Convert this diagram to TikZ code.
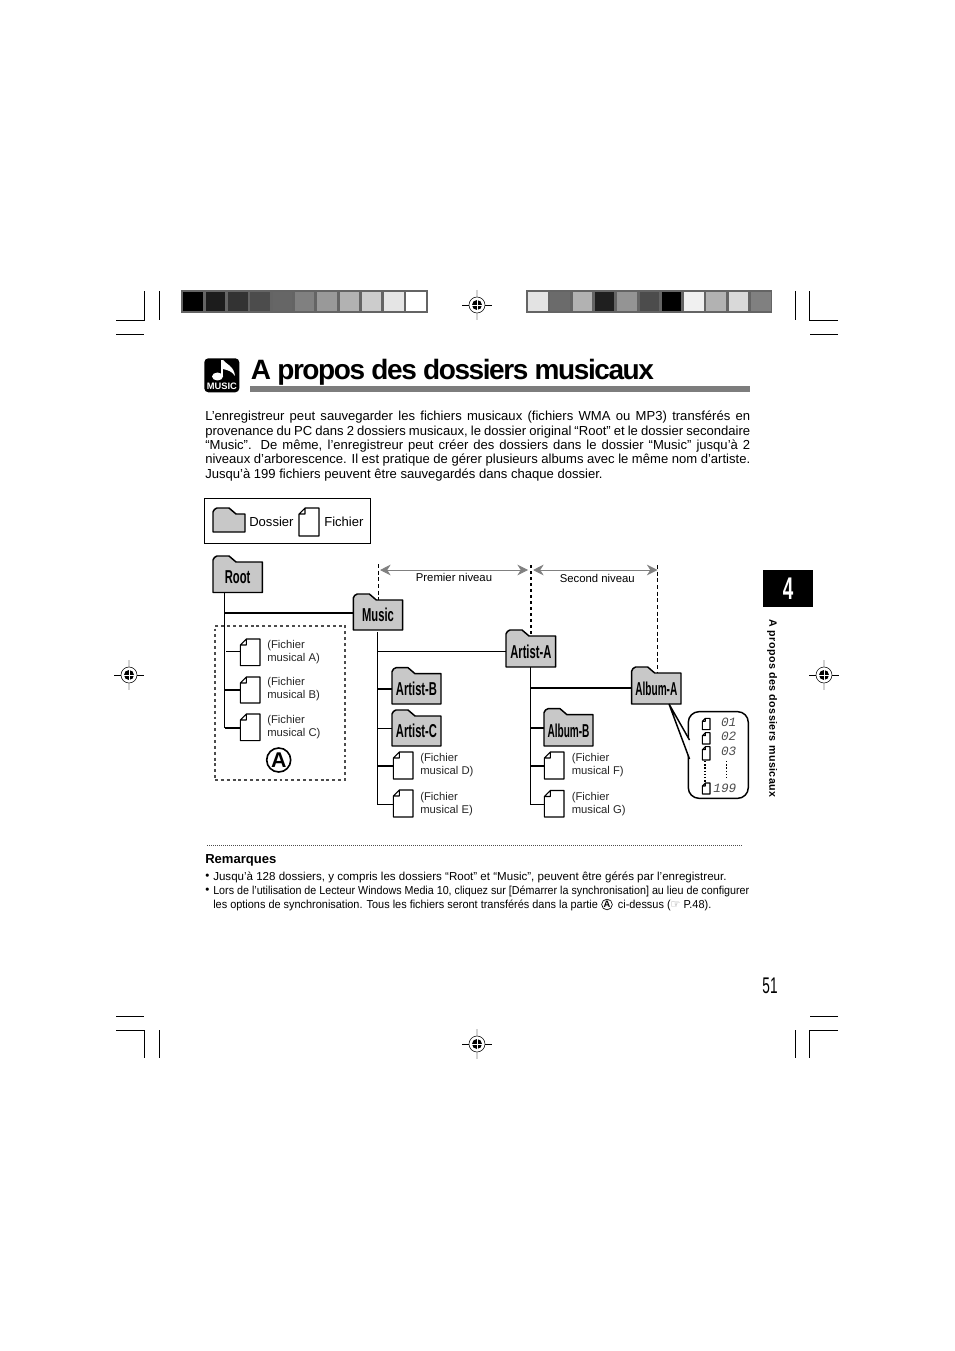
\documentclass[tikz,border=0pt]{standalone}
\usepackage{fontspec}
\setmainfont{Liberation Sans}
\newfontfamily\foldfont[FakeStretch=0.6]{Liberation Sans}
\newfontfamily\titlefont[LetterSpace=-5.1]{Liberation Sans}
\newfontfamily\sidefont[LetterSpace=4]{Liberation Sans}
\newfontfamily\lcdfont{Liberation Mono}
\newfontfamily\symfont{DejaVu Sans}
\usepackage{tikz}
\usetikzlibrary{positioning,calc,arrows.meta}
\definecolor{foldgray}{RGB}{200,200,200}
\definecolor{levelgray}{RGB}{125,125,125}
\definecolor{stripgray}{RGB}{100,100,100}

% folder outline plus a label node that carries the name
\newcommand{\folderbox}[6]{%
  \draw[foldline] (#2,#5) -- (#2,#3+4) to[bend left=30] (#2+4,#3) -- (#2+16,#3)
    -- (#2+23,#3+6) -- (#4,#3+6) -- (#4,#5) -- cycle;
  \node[foldlabel, minimum width={(#4-#2)*0.75pt}, minimum height={(#5-#3-6)*0.75pt}]
    (#1) at ({(#2+#4)/2},{(#3+6+#5)/2}) {#6};
}
% file with a folded corner
\newcommand{\filenode}[6][6]{%
  \draw[docline] (#3+#1,#4) -- (#5,#4) -- (#5,#6) -- (#3,#6) -- (#3,#4+#1) -- cycle
    (#3+#1,#4) |- (#3,#4+#1);
  \node[docnode, minimum width={(#5-#3)*0.75pt}, minimum height={(#6-#4)*0.75pt}]
    (#2) at ({(#3+#5)/2},{(#4+#6)/2}) {};
}
\newcommand{\regmark}[3]{%
  \draw[gray!35, line width=1pt] (#2,#3-15) -- (#2,#3+15);
  \draw[black, line width=.5pt] (#2-15,#3) -- (#2+15,#3) (#2,#3-8) -- (#2,#3+8);
  \draw[black, line width=.4pt, fill=white] (#2,#3) circle (8);
  \fill[black] (#2,#3) circle (5);
  \draw[white, line width=.6pt] (#2-5,#3) -- (#2+5,#3) (#2,#3-5) -- (#2,#3+5);
  \coordinate (#1) at (#2,#3);
}
\begin{document}
\begin{tikzpicture}[
  x=0.75pt, y=-0.75pt,
  foldline/.style={draw=black, fill=foldgray, line width=1.1pt, line join=round},
  foldlabel/.style={inner sep=0pt, font=\foldfont\fontsize{14}{14}\selectfont\bfseries},
  docnode/.style={inner sep=0pt},
  docline/.style={draw=black, fill=white, line width=.8pt, line join=round},
  thinlink/.style={black, line width=.75pt},
  thicklink/.style={black, line width=1.5pt},
  croplink/.style={black, line width=.6pt},
  lvlarrow/.style={{Stealth[length=8pt,width=8pt]}-{Stealth[length=8pt,width=8pt]}, gray, line width=.75pt},
  lvltext/.style={inner sep=0pt, text=black, font=\fontsize{8.5}{9}\selectfont},
  filetext/.style={anchor=west, align=left, inner sep=0pt, font=\fontsize{8.45}{9.8}\selectfont, text=black!85},
  lcdnum/.style={anchor=east, inner sep=0pt, text=black!70, font=\lcdfont\itshape\fontsize{9.5}{9.5}\selectfont},
  notetext/.style={anchor=north west, inner sep=0pt, font=\fontsize{8.67}{10.5}\selectfont},
]
\path[use as bounding box] (0,0) rectangle (954,1351);
%--- crop marks -----------------------------------------------------------
\draw[croplink] (116,320) -- (144.5,320) -- (144.5,291) (159.5,291) -- (159.5,320) (116,334) -- (144,334);
\draw[croplink] (838,320) -- (809.7,320) -- (809.7,291) (795.3,291) -- (795.3,320) (838,334) -- (810,334);
\draw[croplink] (116,1030) -- (144.5,1030) -- (144.5,1058) (159.5,1030) -- (159.5,1058) (116,1016) -- (144,1016);
\draw[croplink] (838,1030) -- (809.7,1030) -- (809.7,1058) (795.3,1030) -- (795.3,1058) (838,1016) -- (810,1016);
\regmark{regtop}{477}{305}
\regmark{regleft}{129}{675}
\regmark{regright}{824}{675}
\regmark{regbottom}{477}{1044}
%--- gray strips ----------------------------------------------------------
\fill[stripgray] (181,290) rectangle (427.7,312.7);
\foreach \lev [count=\i from 0] in {100,89,80,70,60,50,40,30,20,10,0}
  \fill[black!\lev] ({183.4+22.3*\i},292.3) rectangle ({202.9+22.3*\i},310.7);
\fill[stripgray] (526,290) rectangle (772,312.7);
\foreach \lev [count=\i from 0] in {11,58,30,88,42,70,100,6,30,15,50}
  \fill[black!\lev] ({528+22.3*\i},292.3) rectangle ({547.5+22.3*\i},310.7);
%--- title ----------------------------------------------------------------
\fill[black, rounded corners=3pt] (204.3,358.3) rectangle (239.3,392.3);
\fill[white] (217.5,376.5) ellipse (5.5 and 4);
\fill[white] (220.8,360) rectangle (223,376);
\fill[white] (223,360) .. controls (226,364) and (234,366) .. (235,376)
  .. controls (232,371) and (227,370) .. (223,369) -- cycle;
\node[inner sep=0pt, text=white, font=\fontsize{7}{6}\selectfont\bfseries] (musicmark) at (221.8,386.5) {MUSIC};
\node[anchor=base west, inner sep=0pt, font=\titlefont\fontsize{21}{21}\selectfont\bfseries] (title) at (250.5,379) {A propos des dossiers musicaux};
\fill[levelgray] (250,386) rectangle (750,391.7);
\node[anchor=north west, inner sep=0pt, text width=408.75pt, align=justify, font=\fontsize{9.8}{10.75}\selectfont] (intro) at (205,411) {%
\hyphenpenalty=10000 \tolerance=9999
L’enregistreur peut sauvegarder les fichiers musicaux (fichiers WMA ou MP3) transférés en\linebreak
provenance du PC dans 2 dossiers musicaux, le dossier original “Root” et le dossier secondaire\linebreak
“Music”. De même, l’enregistreur peut créer des dossiers dans le dossier “Music” jusqu’à 2\linebreak
niveaux d’arborescence. Il est pratique de gérer plusieurs albums avec le même nom d’artiste.\linebreak
Jusqu’à 199 fichiers peuvent être sauvegardés dans chaque dossier.};
%--- legend ---------------------------------------------------------------
\node[draw=black, line width=.75pt, minimum width=124.5pt, minimum height=33.75pt, inner sep=0pt] (legend) at (287.5,520.5) {};
\folderbox{legfolder}{213}{508}{245}{532}{}
\node[anchor=west, inner sep=0pt, font=\fontsize{9.8}{10}\selectfont] (legdossier) at (249,521.5) {Dossier};
\filenode{legfile}{299}{508}{319}{536}
\node[anchor=west, inner sep=0pt, font=\fontsize{9.8}{10}\selectfont] (legfichier) at (324,521.5) {Fichier};
%--- level rulers ---------------------------------------------------------
\coordinate (lvla) at (378.5,564);
\coordinate (lvlb) at (530.7,565);
\coordinate (lvlc) at (657.5,565);
\coordinate (rula) at (380,570);
\coordinate (rulb) at (528,570);
\coordinate (rulc) at (533,570);
\coordinate (rold) at (657.5,570);
\draw[lvlarrow] (rula) -- (rulb) node[midway, below=2pt, lvltext] (lvlfirst) {Premier niveau};
\draw[lvlarrow] (rulc) -- (rold) node[midway, below=2.7pt, xshift=1.5pt, lvltext] (lvlsecond) {Second niveau};
%--- folders --------------------------------------------------------------
\folderbox{root}{213}{556}{262.3}{592.5}{Root}
\folderbox{music}{353.3}{594}{402.7}{630}{Music}
\folderbox{artistb}{392}{667.7}{441}{704}{Artist-B}
\folderbox{artistc}{392}{710}{441}{746}{Artist-C}
\folderbox{artista}{506}{630}{555.7}{667}{Artist-A}
\folderbox{albuma}{631.7}{667}{681}{704}{\scalebox{0.9}[1]{Album-A}}
\folderbox{albumb}{544}{708.7}{593}{746}{\scalebox{0.9}[1]{Album-B}}
\draw[black, densely dashed, line width=.6pt] (lvla) -- (lvla |- music.north);
\draw[black, line width=1.5pt, dash pattern=on 2.5pt off 2pt] (lvlb) -- (lvlb |- artista.north);
\draw[black, densely dashed, line width=.7pt] (lvlc) -- (lvlc |- albuma.north);
%--- files ----------------------------------------------------------------
\filenode{fa}{240.3}{639}{260}{665.7}
\filenode{fb}{240.3}{677}{260}{703}
\filenode{fc}{240.3}{714}{260}{740.7}
\filenode{fd}{393.3}{752}{413}{779}
\filenode{fe}{393.3}{790}{413}{817}
\filenode{ff}{544.3}{752}{564}{779}
\filenode{fg}{544.3}{790.5}{564}{817}
\node[filetext] (texta) at (267,652.5) {(Fichier\\musical A)};
\node[filetext] (textb) at (267,689.5) {(Fichier\\musical B)};
\node[filetext] (textc) at (267,727.5) {(Fichier\\musical C)};
\node[filetext] (textd) at (420,765.5) {(Fichier\\musical D)};
\node[filetext] (texte) at (420,804.5) {(Fichier\\musical E)};
\node[filetext] (textf) at (571.5,765.5) {(Fichier\\musical F)};
\node[filetext] (textg) at (571.5,804.5) {(Fichier\\musical G)};
%--- tree links -----------------------------------------------------------
\coordinate (roottop) at (224.5,592.5);
\coordinate (rootend) at (224.5,728);
\coordinate (rootm) at (224.5,612.7);
\coordinate (roota) at (226,651);
\coordinate (rootb) at (224.5,689.7);
\coordinate (rootc) at (224.5,727.7);
\draw[thinlink] (roottop) -- (rootend);
\draw[thicklink] (rootm) -- (rootm -| music.west);
\draw[thinlink] (roota) -- (roota -| fa.west);
\draw[thicklink] (rootb) -- (rootb -| fb.west);
\draw[thicklink] (rootc) -- (rootc -| fc.west);
\coordinate (musictop) at (377.3,632);
\coordinate (musicend) at (377.3,804.5);
\coordinate (musica) at (377.3,651.3);
\coordinate (musicb) at (377.3,689);
\coordinate (musicc) at (377.3,728.7);
\coordinate (musicd) at (377.3,766);
\coordinate (musice) at (377.3,804);
\draw[thinlink] (musictop) -- (musicend);
\draw[thinlink] (musica) -- (musica -| artista.west);
\draw[thicklink] (musicb) -- (musicb -| artistb.west);
\draw[thinlink] (musicc) -- (musicc -| artistc.west);
\draw[thicklink] (musicd) -- (musicd -| fd.west);
\draw[thinlink] (musice) -- (musice -| fe.west);
\coordinate (artisttop) at (530.3,667);
\coordinate (artistend) at (530.3,804.5);
\coordinate (artistm) at (530.3,687.7);
\coordinate (artistn) at (530.3,728);
\coordinate (artistf) at (530.3,766);
\coordinate (artistg) at (530.3,804);
\draw[thinlink] (artisttop) -- (artistend);
\draw[thicklink] (artistm) -- (artistm -| albuma.west);
\draw[thicklink] (artistn) -- (artistn -| albumb.west);
\draw[thicklink] (artistf) -- (artistf -| ff.west);
\draw[thinlink] (artistg) -- (artistg -| fg.west);
%--- part A ---------------------------------------------------------------
\node[draw=black!70, dash pattern=on 2.2pt off 2.2pt, line width=1.5pt, minimum width=97.5pt, minimum height=115.5pt, inner sep=0pt] (parta) at (280,703) {};
\node[circle, draw=black, line width=1.2pt, minimum size=18pt, inner sep=0pt, font=\fontsize{16}{16}\selectfont\bfseries] (marka) at (278.7,760) {A};
%--- lcd bubble -----------------------------------------------------------
\node[draw=black, line width=1.1pt, rounded corners=8pt, minimum width=45pt, minimum height=65pt, inner sep=0pt] (lcd) at (718.3,755) {};
\coordinate (lcdtip) at (669,704);
\coordinate (lcdup) at (689.5,740);
\coordinate (lcddown) at (689.5,759);
\fill[white] (lcdup) -- (lcdtip) -- (lcddown) -- cycle;
\draw[black, line width=1.1pt] (lcdup) -- (lcdtip) -- (lcddown);
\filenode[3]{la}{702.3}{718.3}{710}{729.7}
\filenode[3]{lb}{702.3}{732.7}{710}{744}
\filenode[3]{lc}{702.3}{746.7}{710}{760}
\filenode[3]{ld}{702.3}{783}{710}{794}
\node[lcdnum] (numa) at (736.5,722) {01};
\node[lcdnum] (numb) at (736.5,736.7) {02};
\node[lcdnum] (numc) at (736.5,751) {03};
\node[lcdnum] (numd) at (736.5,788) {199};
\coordinate (dota) at (705,761);
\coordinate (dotb) at (705,782);
\coordinate (dotc) at (726.7,761);
\coordinate (dotd) at (726.7,780);
\draw[black, line width=1.1pt, dash pattern=on 1.1pt off 1.3pt] (dota) -- (dotb) (dotc) -- (dotd);
%--- chapter tab and page number ------------------------------------------
\node[fill=black, minimum width=37.5pt, minimum height=27.5pt, inner sep=0pt, text=white, font=\foldfont\fontsize{23.5}{23.5}\selectfont\bfseries] (chapter) at (788,588.5) {4};
\node[rotate=-90, inner sep=0pt, font=\sidefont\fontsize{8}{8}\selectfont\bfseries] (sidetitle) at (772,708.5) {A propos des dossiers musicaux};
\node[inner sep=0pt, font=\foldfont\fontsize{17}{17}\selectfont] (pageno) at (770,986) {51};
%--- remarks --------------------------------------------------------------
\draw[black!70, line width=.6pt, dash pattern=on .75pt off .75pt] (207,845) -- (742,845);
\node[anchor=west, inner sep=0pt, font=\fontsize{9.8}{10}\selectfont\bfseries] (remarks) at (205,860) {Remarques};
\node[notetext] (bula) at (205,874) {•};
\node[notetext] (notea) at (213,872) {Jusqu’à 128 dossiers, y compris les dossiers “Root” et “Music”, peuvent être gérés par l’enregistreur.};
\node[notetext] (bulb) at (205,888) {•};
\node[notetext] (noteb) at (213,886) {\resizebox{402pt}{\height}{Lors de l’utilisation de Lecteur Windows Media 10, cliquez sur [Démarrer la synchronisation] au lieu de configurer}};
\node[notetext] (notec) at (213,900) {\resizebox{373.5pt}{\height}{les options de synchronisation. Tous les fichiers seront transférés dans la partie \hspace{11pt} ci-dessus ({\symfont\color{gray}☞} P.48).}};
\node[circle, draw=black, line width=.5pt, minimum size=8pt, inner sep=0pt, font=\fontsize{7}{7}\selectfont\bfseries] (markb) at (607,904.5) {A};
\end{tikzpicture}
\end{document}
